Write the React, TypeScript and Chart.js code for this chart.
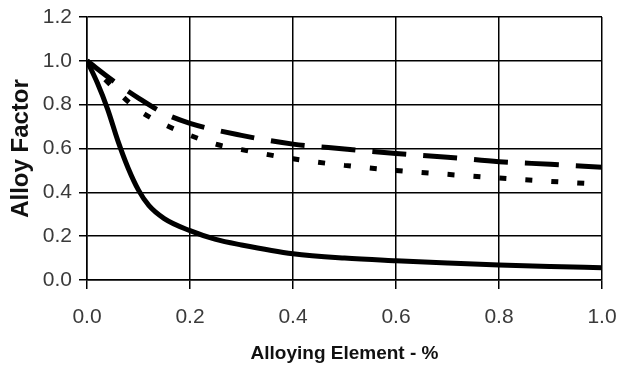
import React, { useEffect, useRef } from "react";
import { Chart, registerables } from "chart.js";

Chart.register(...registerables);

// Series 1 (solid)
const solidX = [0, 0.02, 0.04, 0.06, 0.08, 0.1, 0.12, 0.15, 0.2, 0.25, 0.3, 0.4, 0.5, 0.6, 0.7, 0.8, 0.9, 1.0];
const solidY = [1.0, 0.9, 0.78, 0.635, 0.51, 0.41, 0.34, 0.28, 0.225, 0.185, 0.16, 0.12, 0.1, 0.088, 0.078, 0.069, 0.062, 0.056];

// Series 2 (long dashes)
const dashX = [0, 0.05, 0.1, 0.15, 0.2, 0.3, 0.4, 0.5, 0.6, 0.7, 0.8, 0.9, 1.0];
const dashY = [1.0, 0.91, 0.83, 0.76, 0.715, 0.66, 0.62, 0.598, 0.577, 0.56, 0.54, 0.528, 0.515];

// Series 3 (short dashes)
const dotX = [0, 0.05, 0.1, 0.15, 0.2, 0.25, 0.3, 0.4, 0.5, 0.6, 0.7, 0.8, 0.9, 1.0];
const dotY = [1.0, 0.88, 0.775, 0.71, 0.66, 0.62, 0.595, 0.553, 0.523, 0.5, 0.482, 0.465, 0.45, 0.437];

const xTitle = "Alloying Element - %";
const yTitle = "Alloy Factor";

const SANS = "'Liberation Sans', Arial, sans-serif";

const pts = (xs: number[], ys: number[]) => xs.map((x, i) => ({ x, y: ys[i] }));

export default function App() {
  const ref = useRef<HTMLCanvasElement | null>(null);

  useEffect(() => {
    if (!ref.current) return;
    const common = {
      borderColor: "#000",
      borderWidth: 5,
      pointRadius: 0,
      fill: false,
      cubicInterpolationMode: "monotone" as const,
      borderCapStyle: "butt" as const,
    };
    const chart = new Chart(ref.current, {
      type: "line",
      data: {
        datasets: [
          { ...common, label: "A", data: pts(solidX, solidY) },
          { ...common, label: "B", data: pts(dashX, dashY), borderDash: [34, 17] },
          { ...common, label: "C", data: pts(dotX, dotY), borderDash: [7, 19] },
        ],
      },
      options: {
        animation: false,
        responsive: false,
        devicePixelRatio: 1,
        layout: { padding: { top: 17, right: 24, left: 0, bottom: 0 } },
        plugins: { legend: { display: false }, tooltip: { enabled: false } },
        scales: {
          x: {
            type: "linear",
            min: 0,
            max: 1,
            ticks: {
              stepSize: 0.2,
              padding: 16,
              color: "#3a3a3a",
              font: { family: SANS, size: 21 },
              callback: (v: any) => Number(v).toFixed(1),
              maxRotation: 0,
            },
            grid: { color: "#000", lineWidth: 1.5, tickLength: 9, tickColor: "#000" },
            border: { display: true, color: "#000", width: 1.5 },
            title: {
              display: true,
              text: xTitle,
              color: "#111",
              font: { family: SANS, size: 19, weight: "bold" },
              padding: { top: 0, bottom: 14 },
            },
            afterFit: (s: any) => {
              s.height = 99;
              s.paddingLeft = 0;
              s.paddingRight = 0;
            },
          },
          y: {
            type: "linear",
            min: 0,
            max: 1.2,
            ticks: {
              stepSize: 0.2,
              padding: 7,
              color: "#3a3a3a",
              font: { family: SANS, size: 21 },
              callback: (v: any) => Number(v).toFixed(1),
            },
            grid: { color: "#000", lineWidth: 1.5, tickLength: 8, tickColor: "#000" },
            border: { display: true, color: "#000", width: 1.5 },
            title: {
              display: true,
              text: yTitle,
              color: "#111",
              font: { family: SANS, size: 24, weight: "bold" },
              padding: { top: 7, bottom: 0 },
            },
            afterFit: (s: any) => {
              s.width = 87;
              s.paddingTop = 0;
              s.paddingBottom = 0;
            },
          },
        },
      },
    });
    return () => chart.destroy();
  }, []);

  return (
    <div style={{ position: "absolute", left: 0, top: 0, width: 626, height: 379, background: "#fff" }}>
      <canvas ref={ref} width={626} height={379} style={{ display: "block", width: 626, height: 379 }} />
    </div>
  );
}
